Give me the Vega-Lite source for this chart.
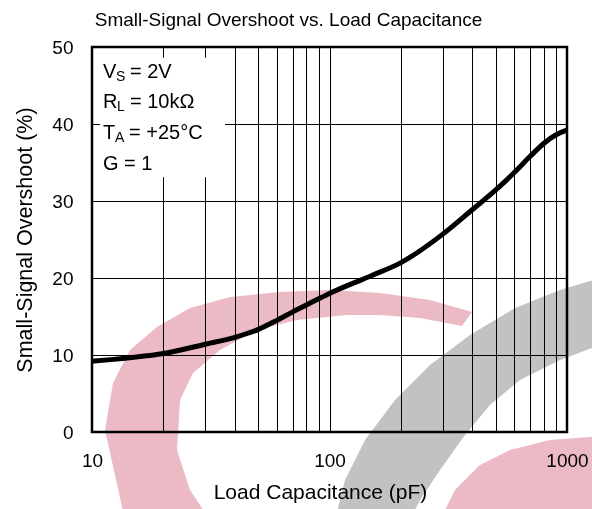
{
  "$schema": "https://vega.github.io/schema/vega-lite/v6.json",
  "width": 475,
  "height": 385,
  "autosize": "none",
  "padding": {"left": 92, "top": 47, "right": 25, "bottom": 77},
  "background": "white",
  "config": {
    "font": "Liberation Sans",
    "view": {"stroke": "black", "strokeWidth": 2.5},
    "axis": {
      "grid": true,
      "gridColor": "black",
      "gridWidth": 1,
      "gridOpacity": 1,
      "ticks": false,
      "domain": false,
      "labelFontSize": 19,
      "labelColor": "black",
      "labelPadding": 19,
      "labelFlush": false,
      "labelOverlap": false,
      "titleFontSize": 21,
      "titleFontWeight": "normal",
      "titleColor": "black"
    }
  },
  "title": {
    "text": "Small-Signal Overshoot vs. Load Capacitance",
    "fontSize": 19,
    "fontWeight": "normal",
    "color": "black",
    "anchor": "middle",
    "baseline": "alphabetic",
    "offset": 12,
    "dx": -41,
    "dy": 19
  },
  "data": {
    "values": [
      {"cap": 10, "overshoot": 9.2},
      {"cap": 12, "overshoot": 9.4},
      {"cap": 15, "overshoot": 9.7},
      {"cap": 20, "overshoot": 10.2},
      {"cap": 30, "overshoot": 11.4},
      {"cap": 40, "overshoot": 12.3},
      {"cap": 50, "overshoot": 13.3},
      {"cap": 60, "overshoot": 14.5},
      {"cap": 70, "overshoot": 15.6},
      {"cap": 80, "overshoot": 16.5},
      {"cap": 90, "overshoot": 17.3},
      {"cap": 100, "overshoot": 18.0},
      {"cap": 150, "overshoot": 20.3},
      {"cap": 200, "overshoot": 22.0},
      {"cap": 300, "overshoot": 25.7},
      {"cap": 400, "overshoot": 28.9},
      {"cap": 500, "overshoot": 31.4},
      {"cap": 600, "overshoot": 33.7},
      {"cap": 700, "overshoot": 35.8},
      {"cap": 800, "overshoot": 37.5},
      {"cap": 900, "overshoot": 38.6},
      {"cap": 1000, "overshoot": 39.2}
    ]
  },
  "layer": [
    {
      "mark": {"type": "line", "color": "black", "strokeWidth": 5, "interpolate": "monotone", "clip": true},
      "encoding": {
        "x": {
          "field": "cap",
          "type": "quantitative",
          "scale": {"type": "log", "domain": [10, 1000], "nice": false},
          "axis": {
            "values": [10, 20, 30, 40, 50, 60, 70, 80, 90, 100, 200, 300, 400, 500, 600, 700, 800, 900, 1000],
            "labelExpr": "datum.value == 10 || datum.value == 100 || datum.value == 1000 ? format(datum.value, 'd') : ''",
            "title": "Load Capacitance (pF)",
            "titlePadding": 11,
            "titleX": 228
          }
        },
        "y": {
          "field": "overshoot",
          "type": "quantitative",
          "scale": {"domain": [0, 50], "nice": false},
          "axis": {
            "values": [0, 10, 20, 30, 40, 50],
            "title": "Small-Signal Overshoot (%)",
            "titleFontSize": 21.5,
            "titlePadding": 15
          }
        }
      }
    },
    {
      "data": {"values": [{}]},
      "mark": {"type": "rect", "fill": "white"},
      "encoding": {
        "x": {"datum": 10.8},
        "x2": {"datum": 36.3},
        "y": {"datum": 48.6},
        "y2": {"datum": 33.1}
      }
    },
    {
      "data": {"values": [{}]},
      "mark": {"type": "text", "align": "left", "baseline": "alphabetic", "fontSize": 20, "color": "black", "dx": 11},
      "encoding": {"x": {"datum": 10}, "y": {"datum": 46.0}, "text": {"value": "V"}}
    },
    {
      "data": {"values": [{}]},
      "mark": {"type": "text", "align": "left", "baseline": "alphabetic", "fontSize": 14, "color": "black", "dx": 24, "dy": 3},
      "encoding": {"x": {"datum": 10}, "y": {"datum": 46.0}, "text": {"value": "S"}}
    },
    {
      "data": {"values": [{}]},
      "mark": {"type": "text", "align": "left", "baseline": "alphabetic", "fontSize": 20, "color": "black", "dx": 38},
      "encoding": {"x": {"datum": 10}, "y": {"datum": 46.0}, "text": {"value": "= 2V"}}
    },
    {
      "data": {"values": [{}]},
      "mark": {"type": "text", "align": "left", "baseline": "alphabetic", "fontSize": 20, "color": "black", "dx": 11},
      "encoding": {"x": {"datum": 10}, "y": {"datum": 42.1}, "text": {"value": "R"}}
    },
    {
      "data": {"values": [{}]},
      "mark": {"type": "text", "align": "left", "baseline": "alphabetic", "fontSize": 14, "color": "black", "dx": 25, "dy": 3},
      "encoding": {"x": {"datum": 10}, "y": {"datum": 42.1}, "text": {"value": "L"}}
    },
    {
      "data": {"values": [{}]},
      "mark": {"type": "text", "align": "left", "baseline": "alphabetic", "fontSize": 20, "color": "black", "dx": 38},
      "encoding": {"x": {"datum": 10}, "y": {"datum": 42.1}, "text": {"value": "= 10kΩ"}}
    },
    {
      "data": {"values": [{}]},
      "mark": {"type": "text", "align": "left", "baseline": "alphabetic", "fontSize": 20, "color": "black", "dx": 11},
      "encoding": {"x": {"datum": 10}, "y": {"datum": 38.1}, "text": {"value": "T"}}
    },
    {
      "data": {"values": [{}]},
      "mark": {"type": "text", "align": "left", "baseline": "alphabetic", "fontSize": 14, "color": "black", "dx": 23, "dy": 3},
      "encoding": {"x": {"datum": 10}, "y": {"datum": 38.1}, "text": {"value": "A"}}
    },
    {
      "data": {"values": [{}]},
      "mark": {"type": "text", "align": "left", "baseline": "alphabetic", "fontSize": 20, "color": "black", "dx": 37},
      "encoding": {"x": {"datum": 10}, "y": {"datum": 38.1}, "text": {"value": "= +25°C"}}
    },
    {
      "data": {"values": [{}]},
      "mark": {"type": "text", "align": "left", "baseline": "alphabetic", "fontSize": 20, "color": "black", "dx": 11},
      "encoding": {"x": {"datum": 10}, "y": {"datum": 34.0}, "text": {"value": "G = 1"}}
    },
    {
      "data": {"values": [{}]},
      "mark": {
        "type": "point",
        "shape": "M33,88 L13,-2 L21,-49 L38,-82 L65,-105 L98,-124 L138,-135 L188,-140 L238,-142 L288,-139 L338,-132 L380,-120 L370,-106 L328,-114 L288,-117 L255,-117 L205,-112 L165,-102 L128,-82 L101,-59 L88,-32 L85,18 L98,58 L118,88 Z",
        "size": 4,
        "filled": true,
        "fill": "#ebbac4",
        "strokeWidth": 0,
        "opacity": 1,
        "blend": "multiply",
        "clip": false
      },
      "encoding": {"x": {"datum": 10}, "y": {"datum": 0}}
    },
    {
      "data": {"values": [{}]},
      "mark": {
        "type": "point",
        "shape": "M243,88 L253,48 L273,8 L303,-32 L338,-67 L378,-97 L423,-124 L468,-142 L508,-154 L508,-87 L468,-72 L428,-52 L398,-27 L373,3 L348,38 L328,68 L318,88 Z",
        "size": 4,
        "filled": true,
        "fill": "#c2c2c2",
        "strokeWidth": 0,
        "opacity": 1,
        "blend": "multiply",
        "clip": false
      },
      "encoding": {"x": {"datum": 10}, "y": {"datum": 0}}
    },
    {
      "data": {"values": [{}]},
      "mark": {
        "type": "point",
        "shape": "M348,88 L363,58 L388,33 L418,18 L458,8 L508,4 L508,88 Z",
        "size": 4,
        "filled": true,
        "fill": "#ebbac4",
        "strokeWidth": 0,
        "opacity": 1,
        "blend": "multiply",
        "clip": false
      },
      "encoding": {"x": {"datum": 10}, "y": {"datum": 0}}
    }
  ]
}
